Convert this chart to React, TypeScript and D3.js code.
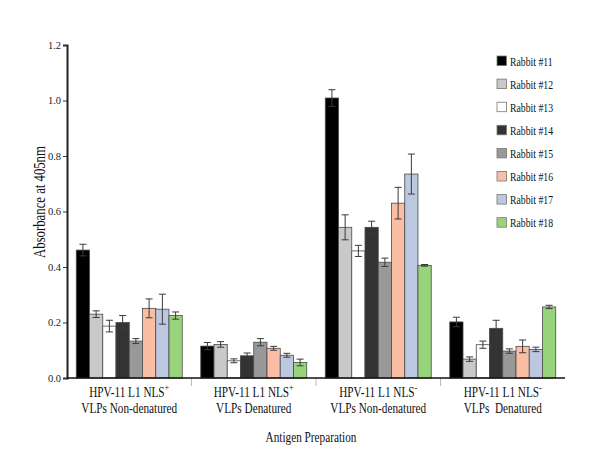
import { useEffect, useRef } from 'react';
import * as d3 from 'd3';

const GROUPS = ['g1', 'g2', 'g3', 'g4'];
const GROUP_LINE1 = ['HPV-11 L1 NLS', 'HPV-11 L1 NLS', 'HPV-11 L1 NLS', 'HPV-11 L1 NLS'];
const GROUP_SUP = ['+', '+', '-', '-'];
const GROUP_LINE2 = ['VLPs Non-denatured', 'VLPs Denatured', 'VLPs Non-denatured', 'VLPs  Denatured'];

const SERIES = ['Rabbit #11', 'Rabbit #12', 'Rabbit #13', 'Rabbit #14', 'Rabbit #15', 'Rabbit #16', 'Rabbit #17', 'Rabbit #18'];
const SERIES_COLORS = ['#000000', '#c9c9c9', '#ffffff', '#333333', '#999999', '#f9bea4', '#bcc7e0', '#98d47b'];

// values[series][group]
const VALUES = [
  [0.461, 0.115, 1.009, 0.202],
  [0.230, 0.121, 0.543, 0.068],
  [0.187, 0.062, 0.458, 0.120],
  [0.200, 0.080, 0.543, 0.179],
  [0.133, 0.129, 0.417, 0.097],
  [0.251, 0.107, 0.630, 0.114],
  [0.248, 0.082, 0.735, 0.103],
  [0.225, 0.056, 0.406, 0.256],
];
const ERRORS = [
  [0.021, 0.013, 0.030, 0.017],
  [0.012, 0.010, 0.045, 0.008],
  [0.021, 0.007, 0.020, 0.013],
  [0.025, 0.010, 0.022, 0.029],
  [0.009, 0.013, 0.015, 0.008],
  [0.034, 0.007, 0.057, 0.023],
  [0.054, 0.007, 0.072, 0.008],
  [0.013, 0.012, 0.003, 0.006],
];

const Y_TICKS = [0, 0.2, 0.4, 0.6, 0.8, 1.0, 1.2];

const W = 600;
const H = 449;
const LEFT = 67;
const RIGHT = 565;
const TOP = 45;
const BOTTOM = 378;
const FONT = '"Liberation Serif", "Times New Roman", serif';
const SQUEEZE = 0.75;

export default function App() {
  const svgRef = useRef<SVGSVGElement>(null);

  useEffect(() => {
    if (!svgRef.current) return;
    const svg = d3.select(svgRef.current);
    svg.selectAll('*').remove();

    const x0 = d3.scaleBand().domain(GROUPS).range([LEFT, RIGHT]).padding(0);
    const x1 = d3.scaleBand().domain(SERIES).range([0, x0.bandwidth()]).paddingInner(0).paddingOuter(0.7);
    const y = d3.scaleLinear().domain([0, 1.2]).range([BOTTOM, TOP]);

    // ── Bars ───────────────────────────────────────────────
    SERIES.forEach((s, si) => {
      GROUPS.forEach((g, gi) => {
        const v = VALUES[si][gi];
        const e = ERRORS[si][gi];
        const bx = x0(g)! + x1(s)!;
        const bw = x1.bandwidth();
        svg.append('rect')
          .attr('x', bx).attr('y', y(v))
          .attr('width', bw).attr('height', y(0) - y(v))
          .attr('fill', SERIES_COLORS[si])
          .attr('stroke', '#4a4a4a').attr('stroke-width', 0.8);

        // error bar
        const cx = bx + bw / 2;
        const eg = svg.append('g').attr('stroke', '#3a3a3a').attr('stroke-width', 1);
        eg.append('line').attr('x1', cx).attr('x2', cx).attr('y1', y(v + e)).attr('y2', y(v - e));
        eg.append('line').attr('x1', cx - 3.5).attr('x2', cx + 3.5).attr('y1', y(v + e)).attr('y2', y(v + e));
        eg.append('line').attr('x1', cx - 3.5).attr('x2', cx + 3.5).attr('y1', y(v - e)).attr('y2', y(v - e));
      });
    });

    // ── Axes ───────────────────────────────────────────────
    const yAxis = d3.axisLeft(y).tickValues(Y_TICKS).tickFormat(d3.format('.1f')).tickSize(4).tickPadding(2);
    svg.append('g')
      .attr('transform', `translate(${LEFT},0)`)
      .call(yAxis)
      .call(g => {
        g.select('.domain').attr('stroke', '#222').attr('stroke-width', 2);
        g.selectAll('.tick line').attr('stroke', '#333');
        g.selectAll('text').attr('font-family', FONT).attr('font-size', 10.5).attr('fill', '#222');
      });

    svg.append('line')
      .attr('x1', LEFT).attr('x2', RIGHT).attr('y1', BOTTOM).attr('y2', BOTTOM)
      .attr('stroke', '#111').attr('stroke-width', 1.5);

    // group separators
    GROUPS.slice(1).forEach(g => {
      svg.append('line')
        .attr('x1', x0(g)!).attr('x2', x0(g)!)
        .attr('y1', BOTTOM + 1).attr('y2', BOTTOM + 8)
        .attr('stroke', '#bbb').attr('stroke-width', 1);
    });

    const squeezed = (x: number, yy: number, rotate = 0) =>
      svg.append('g')
        .attr('transform', `translate(${x},${yy}) rotate(${rotate}) scale(${SQUEEZE},1)`)
        .append('text')
        .attr('font-family', FONT)
        .attr('fill', '#111');

    // category labels
    GROUPS.forEach((g, gi) => {
      const cx = x0(g)! + x0.bandwidth() / 2;
      const t1 = squeezed(cx, 397).attr('text-anchor', 'middle').attr('font-size', 15);
      t1.append('tspan').text(GROUP_LINE1[gi]);
      t1.append('tspan').attr('dy', -6).attr('font-size', 11).text(GROUP_SUP[gi]);
      squeezed(cx, 413).attr('text-anchor', 'middle').attr('font-size', 15)
        .attr('xml:space', 'preserve').text(GROUP_LINE2[gi]);
    });

    // axis titles
    squeezed((LEFT + RIGHT) / 2 - 5, 442).attr('text-anchor', 'middle').attr('font-size', 15).text('Antigen Preparation');
    squeezed(45, 202, -90).attr('text-anchor', 'middle').attr('font-size', 17).text('Absorbance at 405nm');

    // ── Legend ─────────────────────────────────────────────
    SERIES.forEach((s, si) => {
      const ly = 56 + si * 23.1;
      svg.append('rect')
        .attr('x', 497).attr('y', ly).attr('width', 9.5).attr('height', 9.5)
        .attr('fill', SERIES_COLORS[si]).attr('stroke', '#777').attr('stroke-width', 0.8);
      squeezed(510, ly + 9.7).attr('font-size', 13).text(s);
    });
  }, []);

  return (
    <svg
      ref={svgRef}
      width={W}
      height={H}
      style={{ position: 'absolute', left: 0, top: 0, display: 'block', background: '#fff' }}
    />
  );
}
